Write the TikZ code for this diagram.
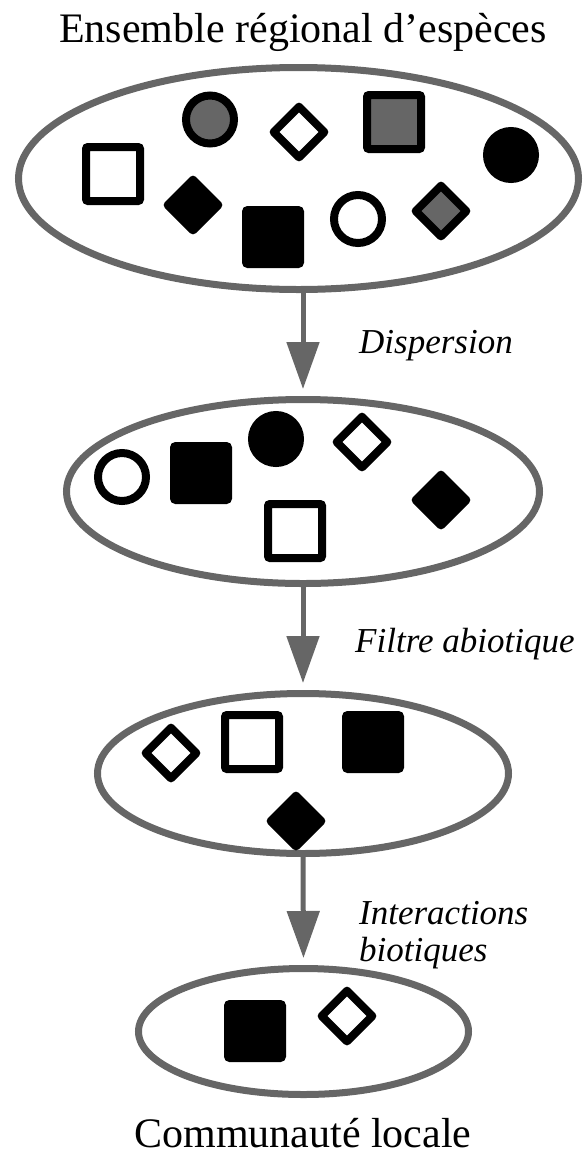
\documentclass[tikz,border=0pt]{standalone}
\usepackage{fontspec}
\setmainfont{Liberation Serif}
\usepackage{tikz}
\usetikzlibrary{positioning}
\usetikzlibrary{arrows.meta,shapes.geometric}
\definecolor{darkgrey}{HTML}{666666}

\begin{document}
\begin{tikzpicture}[x=1pt,y=-1pt,>={Triangle[width=32pt,length=47pt]},
  pool/.style={ellipse,draw=darkgrey,line width=7pt,inner sep=0pt},
  spsquare/.style={rectangle,draw=black,line width=8pt,minimum size=54pt,inner sep=0pt,rounded corners=2pt},
  spcircle/.style={circle,draw=black,line width=8pt,minimum size=48pt,inner sep=0pt},
  spdiamond/.style={diamond,draw=black,line width=8pt,minimum size=54pt,inner sep=0pt,line join=round},
  hollow/.style={fill=white},
  filled/.style={fill=black},
  shaded/.style={fill=darkgrey},
  flow/.style={->,draw=darkgrey,line width=5pt,shorten >=7pt},
  heading/.style={font=\fontsize{42}{50}\selectfont,inner sep=0pt,anchor=base},
  process/.style={font=\fontsize{35}{37}\selectfont\itshape,inner sep=0pt,anchor=base west}]
  \useasboundingbox (0,0) rectangle (584,1157);

  % ellipses
  \node (regional)  [pool,minimum width=560pt,minimum height=222pt] at (298.5,178.5) {};
  \node (dispersed) [pool,minimum width=473pt,minimum height=184pt] at (303,491.5) {};
  \node (abiotic)   [pool,minimum width=411pt,minimum height=160pt] at (303,773.5) {};
  \node (local)     [pool,minimum width=330pt,minimum height=126pt] at (303.5,1031.5) {};

  % regional species pool
  \node (r1) [spcircle,shaded]  at (210,119.5) {};
  \node (r2) [spdiamond,hollow] at (299,132) {};
  \node (r3) [spsquare,shaded]  at (394,122) {};
  \node (r4) [spcircle,filled]  at (511,155) {};
  \node (r5) [spsquare,hollow]  at (113,174) {};
  \node (r6) [spdiamond,filled] at (193,205) {};
  \node (r7) [spsquare,filled]  at (273,237) {};
  \node (r8) [spcircle,hollow]  at (358,219) {};
  \node (r9) [spdiamond,shaded] at (441,211) {};

  % after dispersal
  \node (d1) [spcircle,hollow]  at (122,477) {};
  \node (d2) [spsquare,filled]  at (201,473) {};
  \node (d3) [spcircle,filled]  at (276,439) {};
  \node (d4) [spdiamond,hollow] at (362,442) {};
  \node (d5) [spdiamond,filled] at (441,500) {};
  \node (d6) [spsquare,hollow]  at (295,531) {};

  % after abiotic filter
  \node (a1) [spdiamond,hollow] at (171,753) {};
  \node (a2) [spsquare,hollow]  at (252,742) {};
  \node (a3) [spsquare,filled]  at (373,742) {};
  \node (a4) [spdiamond,filled] at (296,821) {};

  % local community
  \node (l1) [spsquare,filled]  at (255,1031) {};
  \node (l2) [spdiamond,hollow] at (347,1016) {};

  % texts
  \node (top)    [heading] at (303,42)   {Ensemble régional d’espèces};
  \node (bottom) [heading] at (303,1147) {Communauté locale};
  \node (disp)   [process] at (359,353)  {Dispersion};
  \node (filt)   [process] at (355,652)  {Filtre abiotique};
  \node (inter)  [process] at (359,924)  {Interactions};
  \node (bio)    [process] at (359,961)  {biotiques};

  \draw[flow] (regional.south -| dispersed) -- (dispersed.north);
  \draw[flow] (dispersed.south) -- (abiotic.north);
  \draw[flow] (abiotic.south) -- (local.north);
\end{tikzpicture}
\end{document}
